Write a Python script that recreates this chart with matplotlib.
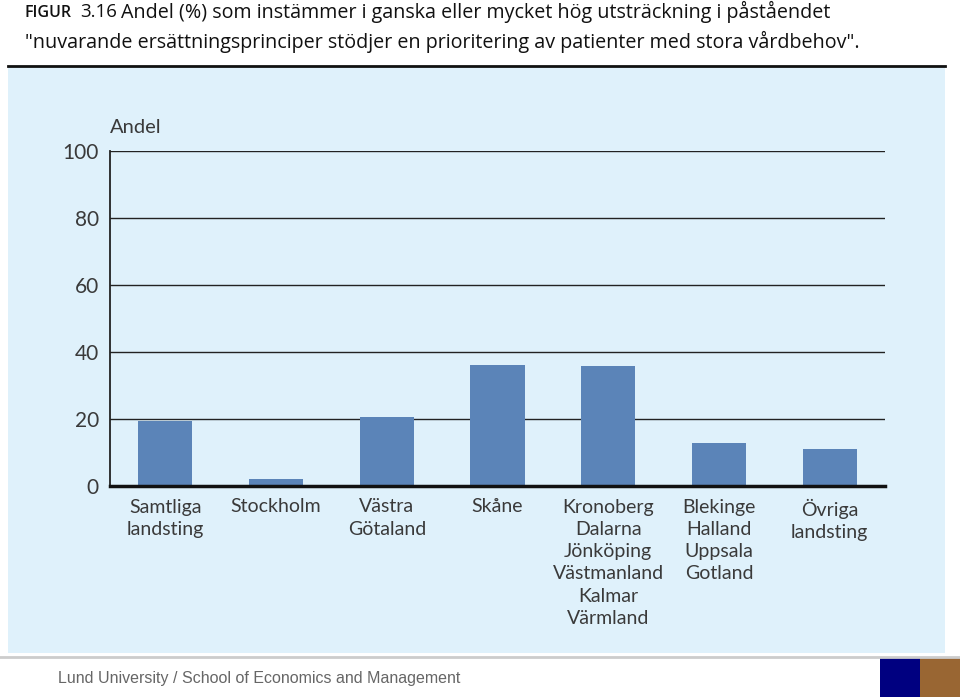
import matplotlib
matplotlib.use("Agg")
import matplotlib.pyplot as plt
from matplotlib.patches import Rectangle
from matplotlib.lines import Line2D

categories = ["Samtliga\nlandsting", "Stockholm", "Västra\nGötaland", "Skåne",
              "Kronoberg\nDalarna\nJönköping\nVästmanland\nKalmar\nVärmland",
              "Blekinge\nHalland\nUppsala\nGotland", "Övriga\nlandsting"]
values = [19.4, 2.0, 20.5, 36.0, 35.7, 12.9, 11.0]
yticks = [0, 20, 40, 60, 80, 100]
title_line1 = "Andel (%) som instämmer i ganska eller mycket hög utsträckning i påståendet"
title_line2 = "\"nuvarande ersättningsprinciper stödjer en prioritering av patienter med stora vårdbehov\"."
ylabel = "Andel"
footer = "Lund University / School of Economics and Management"

W, H = 960, 697
fig = plt.figure(figsize=(W / 100, H / 100), dpi=100)
fig.patch.set_facecolor("white")

def fx(px): return px / W
def fy(py): return 1 - py / H

# background panel
fig.add_artist(Rectangle((fx(8), fy(653)), fx(945) - fx(8), fy(67) - fy(653),
                         transform=fig.transFigure, facecolor="#dff1fb", edgecolor="none", zorder=0))
# top rule
fig.add_artist(Line2D([fx(8), fx(945)], [fy(66), fy(66)], transform=fig.transFigure,
                      color="#111111", lw=2.0))
# footer rule
fig.add_artist(Line2D([0, 1], [fy(657), fy(657)], transform=fig.transFigure,
                      color="#cccccc", lw=2.0))
# footer boxes
fig.add_artist(Rectangle((fx(880), 0), fx(40), fy(657), transform=fig.transFigure,
                         facecolor="#000080", edgecolor="none"))
fig.add_artist(Rectangle((fx(920), 0), fx(40), fy(657), transform=fig.transFigure,
                         facecolor="#996633", edgecolor="none"))
fig.text(fx(58), fy(678), footer, fontsize=11.5, color="#666666", family="Liberation Sans",
         va="center", ha="left")

# title
tfont = "Open Sans"
fig.text(fx(25), fy(13), "FIGUR", fontsize=11.5, color="#111111", family=tfont,
         va="center", ha="left", weight="semibold")
fig.text(fx(80), fy(12), "3.16", fontsize=13.5, color="#111111", family=tfont,
         va="center", ha="left")
fig.text(fx(121), fy(12), title_line1, fontsize=14.2, color="#111111", family=tfont,
         va="center", ha="left")
fig.text(fx(25), fy(42), title_line2, fontsize=14.2, color="#111111", family=tfont,
         va="center", ha="left")

ax = fig.add_axes([fx(110), fy(486), fx(885) - fx(110), fy(151) - fy(486)])
ax.set_facecolor("none")
x = range(len(categories))
ax.bar(x, values, width=0.49, color="#5b84b8", zorder=2)
ax.set_xlim(-0.5, len(categories) - 0.5)
ax.set_ylim(0, 100)
ax.set_yticks(yticks)
for yv in yticks[1:]:
    ax.axhline(yv, color="#222222", lw=1.0, zorder=1)
for s in ["top", "right"]:
    ax.spines[s].set_visible(False)
ax.spines["left"].set_color("#222222")
ax.spines["left"].set_linewidth(1.3)
ax.spines["bottom"].set_color("#111111")
ax.spines["bottom"].set_linewidth(2.5)
ax.spines["bottom"].set_zorder(3)
ax.tick_params(axis="both", length=0, colors="#3a3a3a")
ax.tick_params(axis="y", pad=8, labelsize=15)
ax.tick_params(axis="x", pad=9, labelsize=14)
ax.set_xticks(list(x))
ax.set_xticklabels(categories, family="Lato", linespacing=1.38, va="top")
for lab in ax.get_yticklabels():
    lab.set_family("Lato")
ax.text(0, 1.07, ylabel, transform=ax.transAxes, fontsize=14.5, color="#3a3a3a",
        family="Lato", ha="left", va="center")

fig.savefig("out.png", dpi=100)
